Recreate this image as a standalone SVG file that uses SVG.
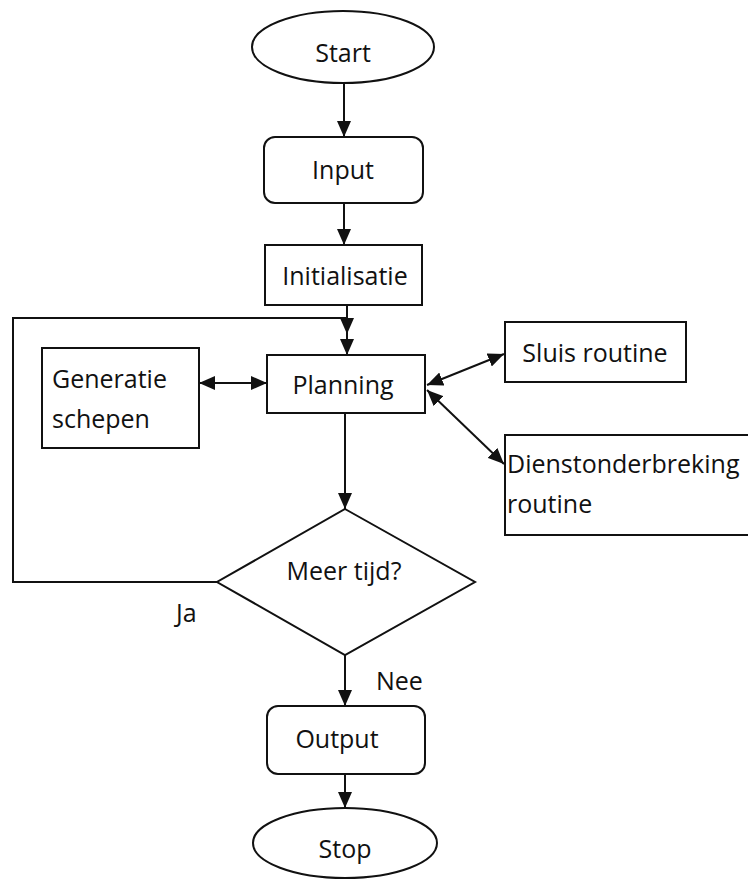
<svg xmlns="http://www.w3.org/2000/svg" width="748" height="879" viewBox="0 0 748 879">
  <defs>
    <marker id="arrow" markerWidth="16" markerHeight="14" refX="16" refY="7" orient="auto" markerUnits="userSpaceOnUse">
      <path d="M0,0 L16,7 L0,14 Z" fill="#111"/>
    </marker>
    <marker id="arrowStart" markerWidth="16" markerHeight="14" refX="0" refY="7" orient="auto" markerUnits="userSpaceOnUse">
      <path d="M16,0 L0,7 L16,14 Z" fill="#111"/>
    </marker>
    <style>
      .shape { fill: #fff; stroke: #111; stroke-width: 2; }
      .line { fill: none; stroke: #111; stroke-width: 2; }
      .label { font-family: "Open Sans", "Liberation Sans", sans-serif; font-size: 25px; fill: #111; }
      .mid { text-anchor: middle; }
    </style>
  </defs>
  <rect width="748" height="879" fill="#fff"/>

  <g id="connectors">
    <line class="line" x1="344" y1="83" x2="344" y2="137" marker-end="url(#arrow)"/>
    <line class="line" x1="344" y1="203" x2="344" y2="245" marker-end="url(#arrow)"/>
    <line class="line" x1="347" y1="305" x2="347" y2="334" marker-end="url(#arrow)"/>
    <polyline class="line" points="217,582 13,582 13,318 347,318 347,355" marker-end="url(#arrow)"/>
    <line class="line" x1="199" y1="383" x2="267" y2="383" marker-start="url(#arrowStart)" marker-end="url(#arrow)"/>
    <line class="line" x1="427" y1="385" x2="504" y2="354" marker-start="url(#arrowStart)" marker-end="url(#arrow)"/>
    <line class="line" x1="427" y1="390" x2="504" y2="464" marker-start="url(#arrowStart)" marker-end="url(#arrow)"/>
    <line class="line" x1="345" y1="413" x2="345" y2="509" marker-end="url(#arrow)"/>
    <line class="line" x1="345" y1="655" x2="345" y2="706" marker-end="url(#arrow)"/>
    <line class="line" x1="345" y1="774" x2="345" y2="808" marker-end="url(#arrow)"/>
    <text class="label" x="176" y="622">Ja</text>
    <text class="label" x="376" y="690">Nee</text>
  </g>

  <g id="start">
    <ellipse class="shape" cx="343" cy="47" rx="91" ry="36"/>
    <text class="label mid" x="343" y="62">Start</text>
  </g>

  <g id="input">
    <rect class="shape" x="264" y="137" width="159" height="66" rx="11"/>
    <text class="label mid" x="343" y="179">Input</text>
  </g>

  <g id="initialisatie">
    <rect class="shape" x="265" y="245" width="157" height="60"/>
    <text class="label mid" x="345" y="285">Initialisatie</text>
  </g>

  <g id="planning">
    <rect class="shape" x="267" y="355" width="158" height="58"/>
    <text class="label mid" x="343" y="394">Planning</text>
  </g>

  <g id="generatie-schepen">
    <rect class="shape" x="42" y="348" width="157" height="100"/>
    <text class="label" x="52" y="388">Generatie</text>
    <text class="label" x="52" y="428">schepen</text>
  </g>

  <g id="sluis-routine">
    <rect class="shape" x="505" y="322" width="181" height="60"/>
    <text class="label mid" x="595" y="362">Sluis routine</text>
  </g>

  <g id="dienstonderbreking-routine">
    <rect class="shape" x="505" y="435" width="250" height="100"/>
    <text class="label" x="507" y="473">Dienstonderbreking</text>
    <text class="label" x="507" y="513">routine</text>
  </g>

  <g id="meer-tijd">
    <polygon class="shape" points="345,509 475,582 345,655 217,582"/>
    <text class="label mid" x="344" y="580">Meer tijd?</text>
  </g>

  <g id="output">
    <rect class="shape" x="267" y="706" width="158" height="68" rx="11"/>
    <text class="label mid" x="337" y="748">Output</text>
  </g>

  <g id="stop">
    <ellipse class="shape" cx="345" cy="843" rx="92" ry="35"/>
    <text class="label mid" x="345" y="858">Stop</text>
  </g>
</svg>
